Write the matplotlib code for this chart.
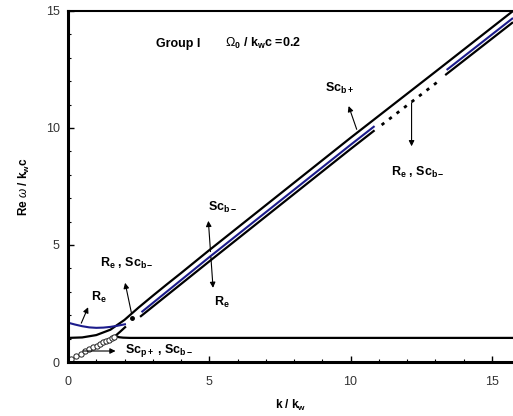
import numpy as np
import matplotlib.pyplot as plt

plt.rcParams['font.family'] = ['Liberation Sans', 'DejaVu Sans']
plt.rcParams['mathtext.fontset'] = 'custom'
plt.rcParams['mathtext.rm'] = 'Liberation Sans'
plt.rcParams['mathtext.it'] = 'Liberation Sans:italic'
plt.rcParams['mathtext.bf'] = 'Liberation Sans:bold'

# rama superior (Sc_b+)
k_sup = [0, 0.5, 1.0, 1.5, 2.0, 2.5, 3.0, 3.5, 4.0, 5.0, 7.0, 10.0, 13.0, 15.75]
w_sup = [1.03, 1.05, 1.15, 1.38, 1.8, 2.33, 2.83, 3.32, 3.8, 4.78, 6.7, 9.58, 12.4, 15.0]

# curva azul (R_e) a k pequeño
k_re_baja = [0, 0.25, 0.5, 0.75, 1.0, 1.25, 1.5, 1.75, 2.05]
w_re_baja = [1.68, 1.6, 1.53, 1.48, 1.46, 1.47, 1.5, 1.55, 1.62]

# curva azul diagonal (dos tramos)
k_re_1 = [2.6, 5.0, 10.0, 10.85]
w_re_1 = [2.13, 4.48, 9.28, 10.08]
k_re_2 = [13.4, 15.75]
w_re_2 = [12.48, 14.7]

# rama inferior negra (Sc_b-)
k_inf_1 = [2.55, 5.0, 10.0, 10.85]
w_inf_1 = [1.93, 4.3, 9.1, 9.9]
k_inf_2 = [13.35, 15.75]
w_inf_2 = [12.26, 14.52]
k_punt = [11.1, 13.2]
w_punt = [10.13, 12.08]

# cuspide y linea horizontal
k_hor = [1.68, 1.8, 1.95, 2.2, 15.75]
w_hor = [1.12, 1.06, 1.04, 1.03, 1.03]
k_cusp = [1.68, 1.85, 2.05]
w_cusp = [1.12, 1.3, 1.52]

# circulos (Sc_p+, Sc_b-)
k_circ = [0.1, 0.28, 0.45, 0.6, 0.75, 0.9, 1.02, 1.14, 1.25, 1.35, 1.45, 1.55, 1.63]
w_circ = [0.12, 0.25, 0.36, 0.46, 0.55, 0.63, 0.70, 0.77, 0.84, 0.9, 0.96, 1.02, 1.07]

# punto aislado
k_dot = [2.27]
w_dot = [1.88]

fig = plt.figure(figsize=(5.13, 4.16), dpi=100)
ax = fig.add_axes([0.1326, 0.1298, 0.8674, 0.8438])

negro = dict(color="k", linewidth=1.6, solid_capstyle="butt")
azul = dict(color="#1c1c8c", linewidth=1.5, solid_capstyle="butt")

ax.plot(k_sup, w_sup, **negro)
ax.plot(k_re_baja, w_re_baja, **azul)
ax.plot(k_re_1, w_re_1, **azul)
ax.plot(k_re_2, w_re_2, **azul)
ax.plot(k_inf_1, w_inf_1, **negro)
ax.plot(k_inf_2, w_inf_2, **negro)
ax.plot(k_punt, w_punt, color="k", linewidth=2, linestyle=(0, (1.2, 2.2)))
ax.plot(k_hor, w_hor, **negro)
ax.plot(k_cusp, w_cusp, **negro)
ax.plot(k_circ, w_circ, "o", markersize=3.8, markerfacecolor="white",
        markeredgecolor="#222222", markeredgewidth=0.7)
ax.plot(k_dot, w_dot, "o", markersize=2.5, color="k")

ax.set_xlim(0, 15.75)
ax.set_ylim(0, 15)
ax.set_xticks([0, 5, 10, 15])
ax.set_yticks([0, 5, 10, 15])
ax.set_xticks(np.arange(0, 16, 1), minor=True)
ax.set_yticks(np.arange(0, 16, 1), minor=True)
ax.tick_params(which="both", direction="in", labelsize=9, labelcolor="#333333")
ax.tick_params(which="major", length=4, width=1)
ax.tick_params(which="minor", length=2, width=0.8)
ax.tick_params(axis="x", pad=10)
ax.tick_params(axis="y", pad=6)

ax.spines["right"].set_visible(False)
ax.spines["left"].set_linewidth(2.2)
ax.spines["bottom"].set_linewidth(2.2)
ax.spines["top"].set_linewidth(1.5)

ax.set_xlabel(r"k / k$_\mathbf{w}$", fontsize=8.5, fontweight="bold", labelpad=7)
ax.set_ylabel(r"Re $\omega$ / k$_\mathbf{w}$c", fontsize=8.5, fontweight="bold", labelpad=10)

# textos
ax.text(3.1, 13.6, "Group I", fontsize=9, fontweight="bold", va="center")
ax.text(5.57, 13.6, r"$\Omega_\mathbf{0}$ / k$_\mathbf{w}$c =0.2", fontsize=9,
        fontweight="bold", va="center")

flecha = dict(arrowstyle="-|>", color="k", lw=0.8, mutation_scale=8)

ax.text(9.6, 11.7, r"Sc$_\mathbf{b+}$", fontsize=9, fontweight="bold",
        ha="center", va="center")
ax.annotate("", xy=(9.9, 11.05), xytext=(10.25, 9.83), arrowprops=flecha)

ax.annotate("", xy=(12.16, 9.1), xytext=(12.16, 11.2), arrowprops=flecha)
ax.text(12.4, 8.1, r"R$_\mathbf{e}$ , Sc$_\mathbf{b-}$", fontsize=9,
        fontweight="bold", ha="center", va="center")

ax.text(5.45, 6.6, r"Sc$_\mathbf{b-}$", fontsize=9, fontweight="bold",
        ha="center", va="center")
ax.annotate("", xy=(4.96, 6.15), xytext=(5.05, 4.6), arrowprops=flecha)
ax.annotate("", xy=(5.14, 3.05), xytext=(5.05, 4.6), arrowprops=flecha)
ax.text(5.45, 2.55, r"R$_\mathbf{e}$", fontsize=9, fontweight="bold",
        ha="center", va="center")

ax.text(2.1, 4.2, r"R$_\mathbf{e}$ , Sc$_\mathbf{b-}$", fontsize=9,
        fontweight="bold", ha="center", va="center")
ax.annotate("", xy=(2.0, 3.5), xytext=(2.27, 1.95), arrowprops=flecha)

ax.text(1.1, 2.75, r"R$_\mathbf{e}$", fontsize=9, fontweight="bold",
        ha="center", va="center")
ax.annotate("", xy=(0.75, 2.45), xytext=(0.43, 1.55), arrowprops=flecha)

ax.text(2.0, 0.5, r"Sc$_\mathbf{p+}$ , Sc$_\mathbf{b-}$", fontsize=9,
        fontweight="bold", ha="left", va="center")
ax.annotate("", xy=(1.78, 0.47), xytext=(0.43, 0.47), arrowprops=flecha)

fig.savefig("out.png", dpi=100)
